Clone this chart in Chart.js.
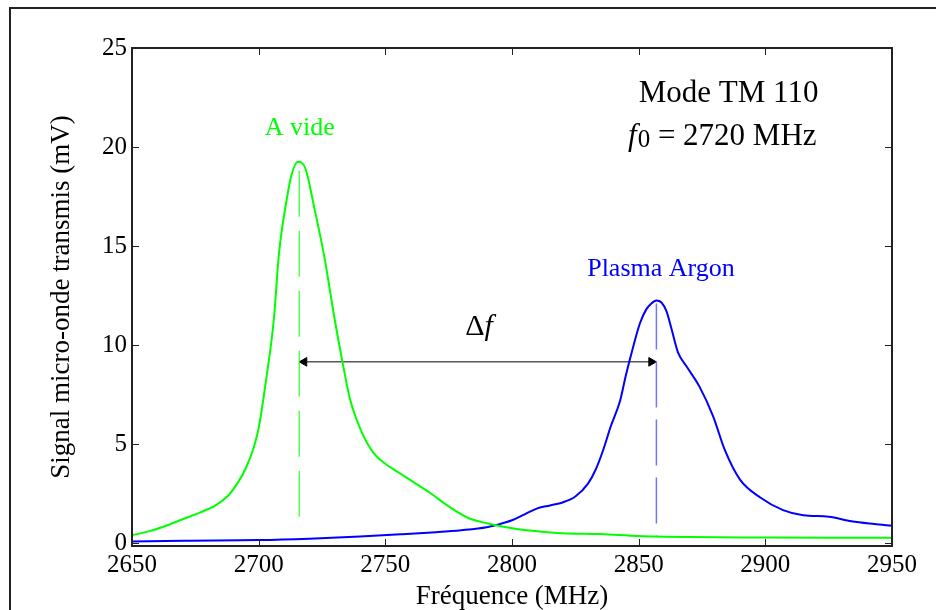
<!DOCTYPE html>
<html>
<head>
<meta charset="utf-8">
<script src="https://cdn.jsdelivr.net/npm/chart.js@4"></script>
<style>
  body { margin: 0; background: #fff; }
  canvas { display: block; }
</style>
</head>
<body>
<canvas id="resonanceGraph" width="936" height="610"></canvas>
<script>
const serif = "'Liberation Serif', 'Times New Roman', serif";

// axes
const xTicks = [2650, 2700, 2750, 2800, 2850, 2900, 2950];
const yTicks = [0, 5, 10, 15, 20, 25];

// A vide (green)
const freqVide = [2650, 2657, 2664, 2670, 2677, 2683, 2688, 2692, 2695, 2698, 2700, 2703, 2706, 2708, 2711, 2713, 2715.5,
  2718.5, 2722, 2726, 2730, 2733, 2736, 2740, 2745, 2750, 2756, 2762, 2768, 2775, 2783, 2790, 2800, 2810, 2820, 2835,
  2850, 2870, 2900, 2925, 2950];
const signalVide = [0.4, 0.6, 0.9, 1.2, 1.55, 1.9, 2.4, 3.1, 3.8, 4.8, 5.8, 8.3, 11.3, 14.6, 17.3, 18.6, 19.25,
  18.9, 16.9, 14.4, 11.3, 9.2, 7.3, 5.8, 4.6, 4.0, 3.5, 3.0, 2.5, 1.85, 1.25, 1.0, 0.75, 0.6, 0.5, 0.45,
  0.35, 0.3, 0.28, 0.27, 0.27];

// Plasma Argon (blue)
const freqArgon = [2650, 2670, 2700, 2720, 2740, 2756, 2770, 2780, 2790, 2795, 2800, 2805, 2810, 2815, 2820, 2825,
  2830, 2833, 2836, 2839, 2842.7, 2845, 2847.4, 2850.5, 2853, 2855, 2857, 2859, 2861, 2863, 2865.6, 2869, 2874,
  2879.4, 2884, 2890, 2898, 2907, 2915, 2925, 2934, 2943, 2950];
const signalArgon = [0.08, 0.12, 0.15, 0.22, 0.33, 0.44, 0.55, 0.65, 0.8, 0.95, 1.15, 1.45, 1.75, 1.9, 2.05, 2.35,
  3.0, 3.7, 4.7, 5.9, 7.2, 8.5, 9.7, 11.1, 11.8, 12.1, 12.25, 12.15, 11.7, 10.8, 9.6, 8.9, 7.9,
  6.4, 4.7, 3.2, 2.3, 1.66, 1.4, 1.33, 1.1, 0.96, 0.87];

// resonance markers and delta-f arrow
const markVideX = [2716, 2716];
const markVideY = [18.8, 0.95];
const markArgonX = [2857, 2857];
const markArgonY = [12.1, 0.3];
const arrowX = [2718, 2855];
const arrowY = [9.15, 9.15];

const toPoints = (xs, ys) => xs.map((x, i) => ({ x: x, y: ys[i] }));

// text labels (data coordinates)
const labels = [
  { text: 'A vide', x: 2716.2, y: 20.6, size: 26, color: '#00ff00' },
  { text: 'Plasma Argon', x: 2858.8, y: 13.48, size: 26, color: '#0000ff' },
  { text: 'Mode TM 110', x: 2885.5, y: 22.28, size: 31, color: '#000' }
];

const framePlugin = {
  id: 'frame',
  beforeDraw(chart) {
    const ctx = chart.ctx;
    ctx.save();
    ctx.strokeStyle = '#222';
    ctx.lineWidth = 2;
    ctx.beginPath();
    ctx.moveTo(10, 612);
    ctx.lineTo(10, 8);
    ctx.lineTo(940, 8);
    ctx.stroke();
    ctx.restore();
  },
  afterDatasetsDraw(chart) {
    const { ctx, chartArea: a, scales: { x, y } } = chart;
    ctx.save();
    ctx.strokeStyle = '#222';
    ctx.lineWidth = 2;
    ctx.strokeRect(a.left, a.top, a.right - a.left, a.bottom - a.top);
    ctx.lineWidth = 1;
    ctx.beginPath();
    xTicks.forEach(v => {
      const px = Math.round(x.getPixelForValue(v)) + 0.5;
      ctx.moveTo(px, a.bottom); ctx.lineTo(px, a.bottom - 7);
      ctx.moveTo(px, a.top); ctx.lineTo(px, a.top + 7);
    });
    yTicks.forEach(v => {
      const py = Math.round(y.getPixelForValue(v)) + 0.5;
      ctx.moveTo(a.left, py); ctx.lineTo(a.left + 7, py);
      ctx.moveTo(a.right, py); ctx.lineTo(a.right - 7, py);
    });
    ctx.stroke();
    ctx.restore();
  },
  afterDraw(chart) {
    const { ctx, scales: { x, y } } = chart;
    ctx.save();
    ctx.textBaseline = 'alphabetic';
    ctx.textAlign = 'center';
    labels.forEach(l => {
      ctx.font = l.size + 'px ' + serif;
      ctx.fillStyle = l.color;
      ctx.fillText(l.text, x.getPixelForValue(l.x), y.getPixelForValue(l.y));
    });

    // f0 = 2720 MHz
    ctx.textAlign = 'left';
    ctx.fillStyle = '#000';
    let px = x.getPixelForValue(2845.8);
    let py = y.getPixelForValue(20.09);
    ctx.font = 'italic 31px ' + serif;
    ctx.fillText('f', px, py);
    px += ctx.measureText('f').width + 1;
    ctx.font = '25px ' + serif;
    ctx.fillText('0', px, py + 2);
    px += ctx.measureText('0').width;
    ctx.font = '31px ' + serif;
    ctx.fillText(' = 2720 MHz', px, py);

    // delta f
    px = x.getPixelForValue(2781.5);
    py = y.getPixelForValue(10.5);
    ctx.font = '30px ' + serif;
    ctx.fillText('\u0394', px, py);
    px += ctx.measureText('\u0394').width;
    ctx.font = 'italic 30px ' + serif;
    ctx.fillText('f', px, py);
    ctx.restore();
  }
};

new Chart(document.getElementById('resonanceGraph'), {
  type: 'line',
  data: {
    datasets: [
      {
        label: 'A vide',
        data: toPoints(freqVide, signalVide),
        borderColor: '#00ff00',
        borderWidth: 2,
        pointRadius: 0,
        cubicInterpolationMode: 'monotone'
      },
      {
        label: 'Plasma Argon',
        data: toPoints(freqArgon, signalArgon),
        borderColor: '#0000ff',
        borderWidth: 2,
        pointRadius: 0,
        cubicInterpolationMode: 'monotone'
      },
      {
        label: 'f vide',
        data: toPoints(markVideX, markVideY),
        borderColor: '#00ff00',
        borderWidth: 1,
        borderDash: [46, 14],
        pointRadius: 0
      },
      {
        label: 'f argon',
        data: toPoints(markArgonX, markArgonY),
        borderColor: '#7474ff',
        borderWidth: 1.5,
        borderDash: [46, 12],
        pointRadius: 0
      },
      {
        label: 'delta f',
        data: toPoints(arrowX, arrowY),
        borderColor: '#000',
        borderWidth: 1,
        pointStyle: 'triangle',
        pointRadius: 5,
        pointRotation: [-90, 90],
        pointBackgroundColor: '#000',
        pointBorderColor: '#000',
        pointBorderWidth: 1
      }
    ]
  },
  options: {
    responsive: false,
    animation: false,
    events: [],
    layout: { padding: { left: 0, top: 48, right: 44, bottom: 0 } },
    plugins: {
      legend: { display: false },
      tooltip: { enabled: false }
    },
    scales: {
      x: {
        type: 'linear',
        min: 2650,
        max: 2950,
        grid: { display: false, drawTicks: false },
        border: { display: false },
        ticks: {
          stepSize: 50,
          maxRotation: 0,
          autoSkip: false,
          padding: 4,
          color: '#000',
          font: { family: serif, size: 25 },
          callback: v => String(v)
        },
        title: {
          display: true,
          text: 'Fréquence (MHz)',
          color: '#000',
          padding: { top: 0, bottom: 0 },
          font: { family: serif, size: 27, lineHeight: 1 }
        },
        afterFit(s) { s.height = 64; }
      },
      y: {
        min: -0.15,
        max: 25,
        grid: { display: false, drawTicks: false },
        border: { display: false },
        ticks: {
          padding: 5,
          color: '#000',
          font: { family: serif, size: 25 },
          callback: v => String(v)
        },
        afterBuildTicks(s) { s.ticks = yTicks.map(v => ({ value: v })); },
        title: {
          display: true,
          text: 'Signal micro-onde transmis (mV)',
          color: '#000',
          padding: { top: 48, bottom: 0 },
          font: { family: serif, size: 27, lineHeight: 1 }
        },
        afterFit(s) { s.width = 132; }
      }
    }
  },
  plugins: [framePlugin]
});
</script>
</body>
</html>
